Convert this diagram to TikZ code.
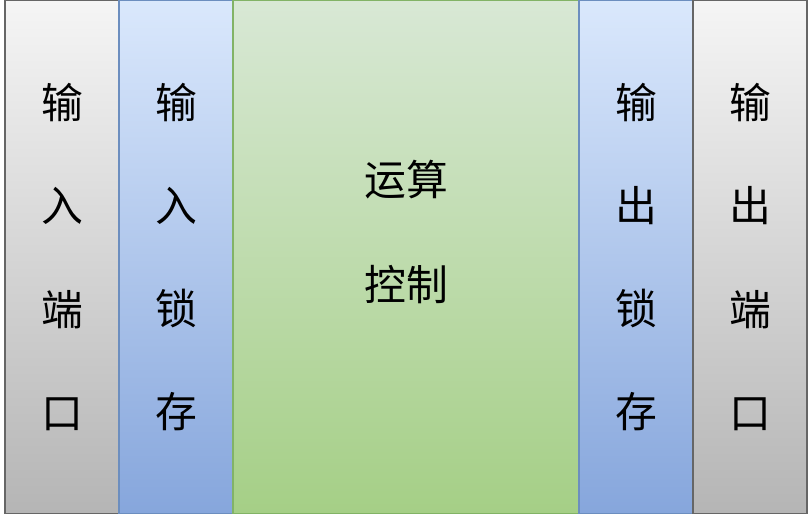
\documentclass[tikz,border=0pt]{standalone}
\usepackage{fontspec}
\newfontfamily\cjk{Noto Sans CJK SC}
\definecolor{grayline}{HTML}{666666}
\definecolor{graytop}{HTML}{F5F5F5}
\definecolor{graybot}{HTML}{B5B5B5}
\definecolor{blueline}{HTML}{6C8EBF}
\definecolor{bluetop}{HTML}{DAE8FC}
\definecolor{bluebot}{HTML}{86A6DC}
\definecolor{greenline}{HTML}{82B366}
\definecolor{greentop}{HTML}{D8E8D5}
\definecolor{greenbot}{HTML}{A5CF86}
\begin{document}
\begin{tikzpicture}[x=1bp,y=-1bp]

      \useasboundingbox (0,0) rectangle (810,514);

      \begin{scope}[every node/.style={rectangle, draw, line width=1.2bp, inner sep=0pt, minimum height=513bp}]
        \node[draw=grayline, top color=graytop, bottom color=graybot, minimum width=114bp] (1) at (62,257) {};
        \node[draw=blueline, top color=bluetop, bottom color=bluebot, minimum width=114bp] (2) at (176,257) {};
        \node[draw=greenline, top color=greentop, bottom color=greenbot, minimum width=346bp] (3) at (406,257) {};
        \node[draw=blueline, top color=bluetop, bottom color=bluebot, minimum width=114bp] (4) at (636,257) {};
        \node[draw=grayline, top color=graytop, bottom color=graybot, minimum width=114bp] (5) at (750,257) {};
      \end{scope}

      \begin{scope}[every node/.style={align=center, inner sep=0pt, font=\cjk\fontsize{42}{103.7}\selectfont}]
        \node (t1) at (1.center) {输\\入\\端\\口};
        \node (t2) at (2.center) {输\\入\\锁\\存};
        \node[font=\cjk\fontsize{42}{106}\selectfont] (t3) at ([yshift=25bp]3.center) {运算\\控制};
        \node (t4) at (4.center) {输\\出\\锁\\存};
        \node (t5) at (5.center) {输\\出\\端\\口};
      \end{scope}

    \end{tikzpicture}
\end{document}
